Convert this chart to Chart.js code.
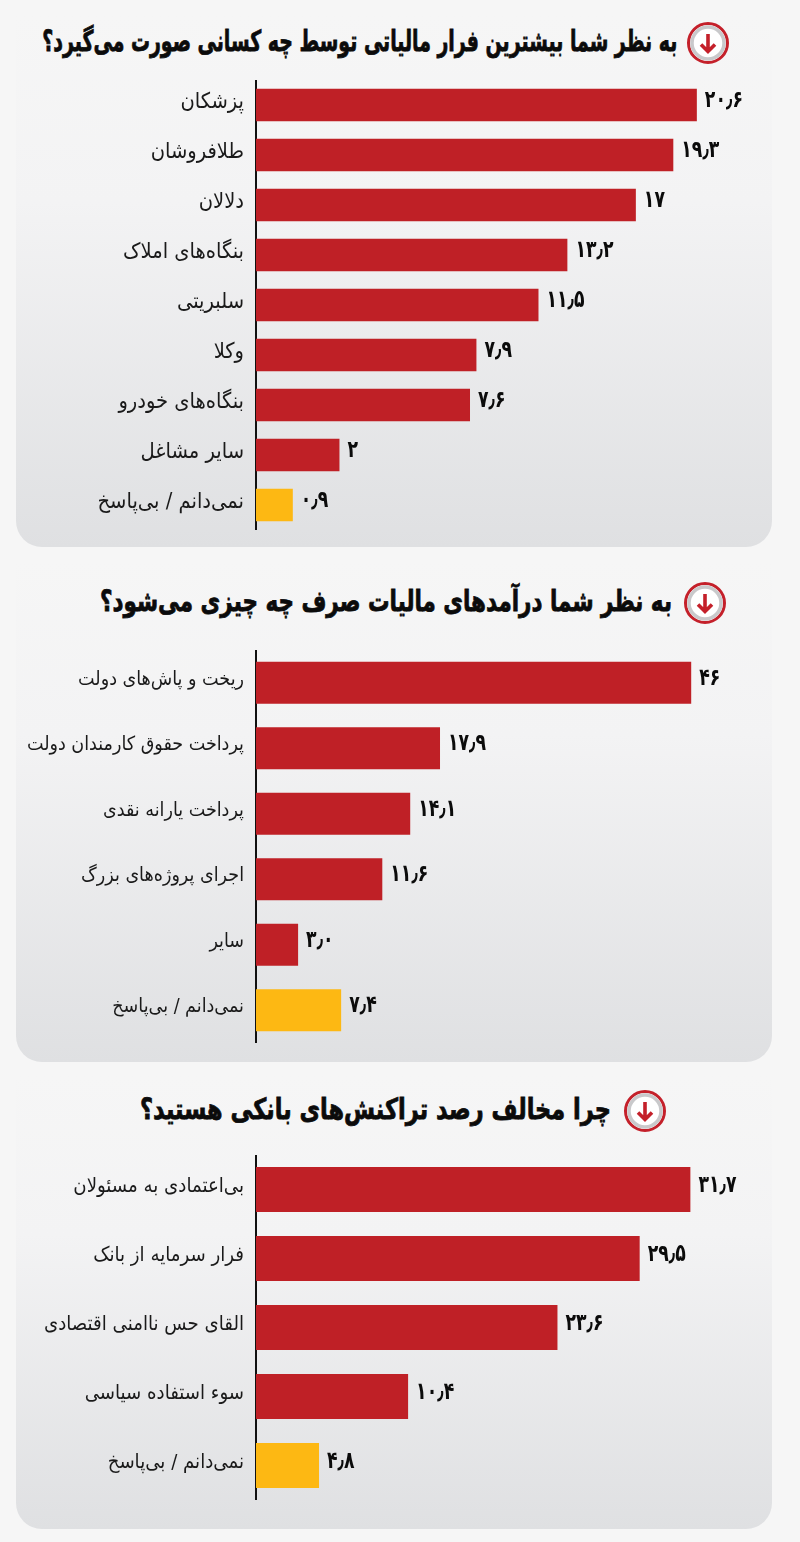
<!DOCTYPE html>
<html lang="fa"><head><meta charset="utf-8">
<style>
html,body{margin:0;padding:0;background:#f6f6f6}
#page{position:relative;width:800px;height:1542px;overflow:hidden;background:#f6f6f6}
.panel{position:absolute;left:16px;width:756px;border-radius:0 0 26px 26px;background:linear-gradient(#f6f6f6 0%,#f3f3f4 35%,#dfe0e2 100%)}
.title{position:absolute;white-space:nowrap;direction:rtl;font-family:'DejaVu Sans',sans-serif;font-weight:700;font-size:29px;color:#0b0b0b;line-height:44px;height:44px;text-align:right;transform-origin:right center;-webkit-text-stroke:.8px #0b0b0b}
canvas{position:absolute;left:0;direction:rtl}
svg{position:absolute}
</style></head><body><div id="page">
<div class="panel" style="top:15px;height:532px"></div>
<div class="panel" style="top:560px;height:502px"></div>
<div class="panel" style="top:1075px;height:454px"></div>

<div class="title" data-w="635" style="right:123px;top:19px">به نظر شما بیشترین فرار مالیاتی توسط چه کسانی صورت می‌گیرد؟</div>
<div class="title" data-w="572" style="right:128px;top:579px">به نظر شما درآمدهای مالیات صرف چه چیزی می‌شود؟</div>
<div class="title" data-w="471" style="right:189px;top:1087px">چرا مخالف رصد تراکنش‌های بانکی هستید؟</div>

<svg style="left:686px;top:21px" width="44" height="44" viewBox="0 0 44 44"><circle cx="22" cy="22" r="19.5" fill="#fff" stroke="#c4202a" stroke-width="3"/><circle cx="22" cy="22" r="16" fill="#fff" stroke="#c9c9cb" stroke-width="3.5"/><path d="M22 13V30M15 23.5L22 30.5L29 23.5" fill="none" stroke="#c4202a" stroke-width="3.6"/></svg>
<svg style="left:683px;top:581px" width="44" height="44" viewBox="0 0 44 44"><circle cx="22" cy="22" r="19.5" fill="#fff" stroke="#c4202a" stroke-width="3"/><circle cx="22" cy="22" r="16" fill="#fff" stroke="#c9c9cb" stroke-width="3.5"/><path d="M22 13V30M15 23.5L22 30.5L29 23.5" fill="none" stroke="#c4202a" stroke-width="3.6"/></svg>
<svg style="left:623px;top:1089px" width="44" height="44" viewBox="0 0 44 44"><circle cx="22" cy="22" r="19.5" fill="#fff" stroke="#c4202a" stroke-width="3"/><circle cx="22" cy="22" r="16" fill="#fff" stroke="#c9c9cb" stroke-width="3.5"/><path d="M22 13V30M15 23.5L22 30.5L29 23.5" fill="none" stroke="#c4202a" stroke-width="3.6"/></svg>

<canvas id="c1" width="800" height="450" style="top:80px;width:800px;height:450px"></canvas>
<canvas id="c2" width="800" height="393" style="top:650px;width:800px;height:393px"></canvas>
<canvas id="c3" width="800" height="345" style="top:1155px;width:800px;height:345px"></canvas>
</div>
<script src="https://cdn.jsdelivr.net/npm/chart.js@4/dist/chart.umd.min.js"></script>
<script>
const categories1 = ['پزشکان','طلافروشان','دلالان','بنگاه‌های املاک','سلبریتی','وکلا','بنگاه‌های خودرو','سایر مشاغل','نمی‌دانم / بی‌پاسخ'];
const printed1 = ['۲۰٫۶','۱۹٫۳','۱۷','۱۳٫۲','۱۱٫۵','۷٫۹','۷٫۶','۲','۰٫۹'];
const barLengths1 = [20.6,19.5,17.75,14.55,13.2,10.3,10,3.9,1.72];

const categories2 = ['ریخت و پاش‌های دولت','پرداخت حقوق کارمندان دولت','پرداخت یارانه نقدی','اجرای پروژه‌های بزرگ','سایر','نمی‌دانم / بی‌پاسخ'];
const printed2 = ['۴۶','۱۷٫۹','۱۴٫۱','۱۱٫۶','۳٫۰','۷٫۴'];
const barLengths2 = [46,19.45,16.3,13.35,4.45,9];

const categories3 = ['بی‌اعتمادی به مسئولان','فرار سرمایه از بانک','القای حس ناامنی اقتصادی','سوء استفاده سیاسی','نمی‌دانم / بی‌پاسخ'];
const printed3 = ['۳۱٫۷','۲۹٫۵','۲۳٫۶','۱۰٫۴','۴٫۸'];
const barLengths3 = [31.7,28,22,11.1,4.6];

document.querySelectorAll('.title').forEach(t=>{
  t.style.transform='scaleX('+(+t.dataset.w/t.getBoundingClientRect().width)+')';
});

const RED='#bf2026', YELLOW='#fdb813', FONT="'DejaVu Sans Condensed','DejaVu Sans',sans-serif";
const printedLabels={
  id:'printedLabels',
  afterDatasetsDraw(chart){
    const c=chart.ctx, meta=chart.getDatasetMeta(0), printed=chart.options.plugins.printedLabels.values;
    c.save();c.direction='ltr';c.textAlign='left';c.textBaseline='middle';c.fillStyle='#0b0b0b';c.font="bold 24px 'DejaVu Sans',sans-serif";
    meta.data.forEach((el,i)=>{
      c.save();c.translate(el.x+8,el.y-4);c.scale(0.72,1);c.fillText(printed[i],0,0);c.restore();
    });
    c.restore();
  }
};
function make(id,categories,lengths,printed,axisMax,barPct,fontSize){
  new Chart(document.getElementById(id),{
    type:'bar',
    plugins:[printedLabels],
    data:{labels:categories,datasets:[{data:lengths,
      backgroundColor:ctx=>ctx.dataIndex===categories.length-1?YELLOW:RED,
      borderWidth:0,categoryPercentage:1,barPercentage:barPct}]},
    options:{indexAxis:'y',responsive:false,animation:false,
      layout:{padding:0},
      plugins:{legend:{display:false},tooltip:{enabled:false},printedLabels:{values:printed}},
      scales:{
        x:{display:false,min:0,max:axisMax},
        y:{afterFit:s=>{
             s.width=256;s.paddingTop=0;s.paddingBottom=0;
             if(!s._raised){
               s._raised=true;
               const orig=s._computeLabelItems;
               s._computeLabelItems=function(a){
                 return orig.call(this,a).map(it=>{const t=it.options.translation;it.options.translation=[t[0],t[1]-3];return it;});
               };
             }
           },
           grid:{display:false,drawTicks:false},
           border:{display:true,color:'#111',width:2},
           ticks:{color:'#1a1a1a',padding:12,font:{family:FONT,size:fontSize}}}
      }}
  });
}
make('c1',categories1,barLengths1,printed1,25.42,0.65,21.7);
make('c2',categories2,barLengths2,printed2,57.5,0.645,19.5);
make('c3',categories3,barLengths3,printed3,39.7,0.65,20.2);
</script></body></html>
